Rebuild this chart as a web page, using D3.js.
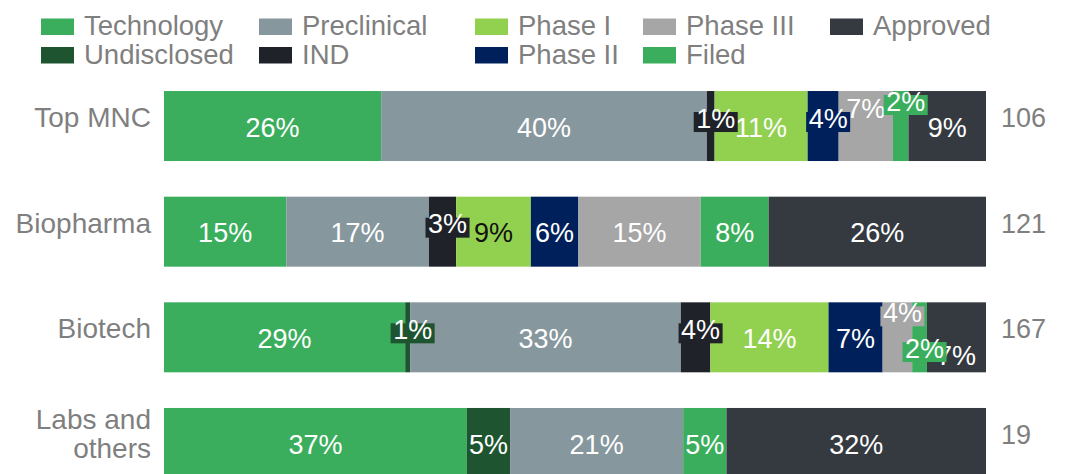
<!DOCTYPE html>
<html><head><meta charset="utf-8">
<script src="https://cdn.jsdelivr.net/npm/d3@7"></script>
<style>
body{margin:0;background:#fff}
svg{display:block}
text{font-family:"Liberation Sans",Arial,Helvetica,sans-serif}
</style>
</head><body><svg id="chart" width="1065" height="474"></svg>
<script>
// ---- data ----
const categories = ["Top MNC", "Biopharma", "Biotech", "Labs and\nothers"];
const seriesNames = ["Technology", "Undisclosed", "Preclinical", "IND", "Phase I", "Phase II", "Phase III", "Filed", "Approved"];
const totals = [106, 121, 167, 19];
// number of assets per stage, one value per category
const technology  = [28, 18, 49, 7];
const undisclosed = [0, 0, 1, 1];
const preclinical = [42, 21, 55, 4];
const ind         = [1, 4, 6, 0];
const phase1      = [12, 11, 24, 0];
const phase2      = [4, 7, 11, 0];
const phase3      = [7, 18, 6, 0];
const filed       = [2, 10, 3, 1];
const approved    = [10, 32, 12, 6];
const seriesValues = [technology, undisclosed, preclinical, ind, phase1, phase2, phase3, filed, approved];

// ---- style / layout ----
const colors = ["#3aae5c", "#1e5530", "#87979e", "#202229", "#92d050", "#00205b", "#a6a6a6", "#3aae5c", "#353a41"];
const greyText = "#7f7f7f";
const fontSize = 27;       // value labels, totals
const catFontSize = 28;    // category labels
const legFontSize = 27.5;  // legend
// vertical lanes for crowded labels (label de-overlap)
const laneStep = 17;
const labelLanes = {
  "Top MNC|Phase III": -1.1, "Top MNC|Filed": -1,
  "Biotech|Phase III": -1, "Biotech|Filed": 1.1, "Biotech|Approved": 1
};

const svg = d3.select("#chart");
const x = d3.scaleLinear().domain([0, 1]).range([164, 986]);
const y = d3.scaleBand().domain(categories).range([73.2, 495.8]).paddingInner(0.3375).paddingOuter(0.16875);
const color = d3.scaleOrdinal().domain(seriesNames).range(colors);

const rows = categories.map((c, i) => {
  const r = {cat: c, total: totals[i]};
  seriesNames.forEach((s, j) => r[s] = seriesValues[j][i] / totals[i]);
  return r;
});
const stacked = d3.stack().keys(seriesNames)(rows);

// bars
const gBars = svg.append("g");
stacked.forEach(layer => {
  gBars.selectAll(null).data(layer.filter(d => d[1] - d[0] > 0)).join("rect")
    .attr("x", d => x(d[0]))
    .attr("y", d => y(d.data.cat))
    .attr("width", d => x(d[1]) - x(d[0]))
    .attr("height", y.bandwidth())
    .attr("fill", color(layer.key));
});

// labels
const labels = [];
stacked.forEach((layer, j) => {
  layer.forEach((d, i) => {
    const v = seriesValues[j][i];
    if (!v) return;
    labels.push({
      cat: d.data.cat, key: layer.key,
      text: Math.round(v / totals[i] * 100) + "%",
      cx: (x(d[0]) + x(d[1])) / 2,
      segW: x(d[1]) - x(d[0]),
      cy: y(d.data.cat) + y.bandwidth() / 2
    });
  });
});
// measure
const measure = svg.append("text").attr("font-size", fontSize);
labels.forEach(l => {
  measure.text(l.text);
  l.w = measure.node().getComputedTextLength();
  l.boxed = l.w > l.segW;
  const lane = labelLanes[l.cat + "|" + l.key] || 0;
  if (l.boxed) { l.tx = l.cx + 5; l.tc = l.cy - 8 + lane * laneStep; }
  else { l.tx = l.cx; l.tc = l.cy + 1 + lane * laneStep; }
});
measure.remove();

const gLab = svg.append("g");
const plain = labels.filter(l => !l.boxed), boxed = labels.filter(l => l.boxed);
gLab.selectAll("text.plain").data(plain).join("text").attr("class", "plain")
  .attr("x", l => l.tx).attr("y", l => l.tc + fontSize * 0.358)
  .attr("text-anchor", "middle").attr("font-size", fontSize)
  .attr("fill", l => (l.cat === "Biopharma" && l.key === "Phase I") ? "#111111" : "#ffffff")
  .text(l => l.text);
const gb = gLab.selectAll("g.boxed").data(boxed).join("g").attr("class", "boxed");
gb.append("rect")
  .attr("x", l => l.tx - l.w / 2 - 2.5).attr("y", l => l.tc - 6)
  .attr("width", l => l.w + 5).attr("height", 20)
  .attr("fill", l => color(l.key));
gb.append("text")
  .attr("x", l => l.tx).attr("y", l => l.tc + fontSize * 0.358)
  .attr("text-anchor", "middle").attr("font-size", fontSize).attr("fill", "#ffffff")
  .text(l => l.text);

// category labels
const gCat = svg.append("g");
categories.forEach(c => {
  const lines = c.split("\n");
  const cy = y(c) + y.bandwidth() / 2;
  const t = gCat.append("text").attr("text-anchor", "end").attr("font-size", catFontSize).attr("fill", greyText);
  lines.forEach((ln, k) => {
    t.append("tspan").attr("x", 151).attr("y", cy + 1 + (k - (lines.length - 1) / 2) * 29).text(ln);
  });
});

// totals
svg.append("g").selectAll("text").data(categories).join("text")
  .attr("x", 1001).attr("y", (c) => y(c) + y.bandwidth() / 2 + 1)
  .attr("font-size", fontSize).attr("fill", greyText)
  .text((c, i) => totals[i]);

// legend (column-major, 2 rows)
const legendCols = [41, 259, 475, 643, 830];
const legendRows = [35, 63.5];
const gLeg = svg.append("g");
seriesNames.forEach((s, j) => {
  const lx = legendCols[Math.floor(j / 2)], ly = legendRows[j % 2];
  gLeg.append("rect").attr("x", lx).attr("y", ly - 16.5).attr("width", 33).attr("height", 16.5).attr("fill", color(s));
  gLeg.append("text").attr("x", lx + 43).attr("y", ly).attr("font-size", legFontSize).attr("fill", greyText).text(s);
});
</script>
</body></html>
